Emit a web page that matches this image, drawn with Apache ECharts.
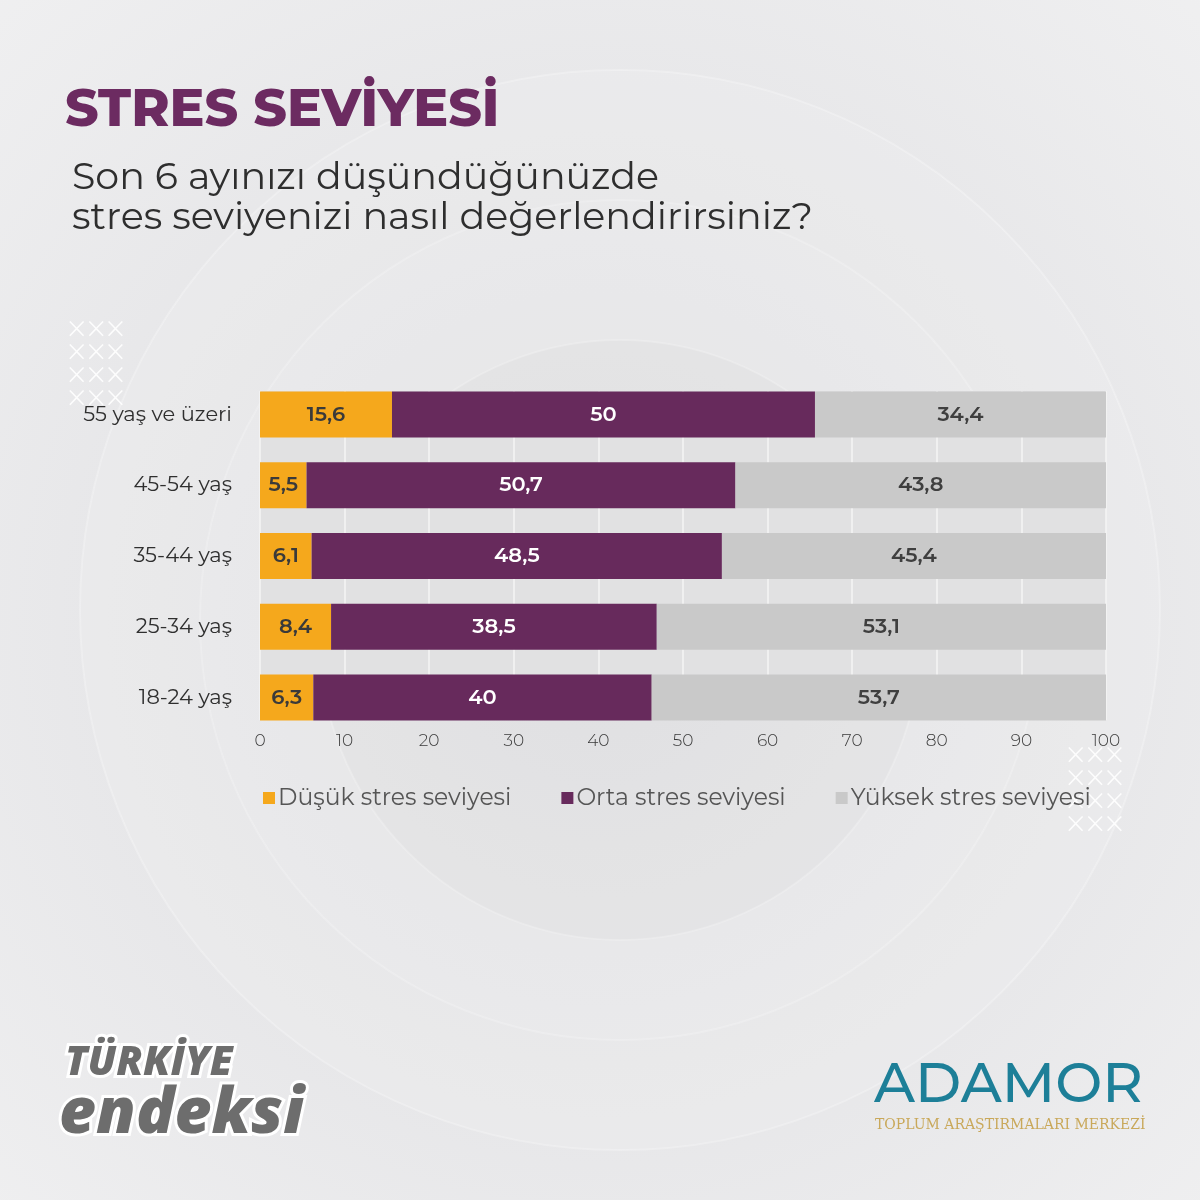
<!DOCTYPE html>
<html>
<head>
<meta charset="utf-8">
<script src="https://cdn.jsdelivr.net/npm/echarts@6/dist/echarts.min.js"></script>
<style>
html,body{margin:0;padding:0;}
#c{width:1200px;height:1200px;}
</style>
</head>
<body>
<div id="c"></div>
<script>
const categories = ['55 yaş ve üzeri', '45-54 yaş', '35-44 yaş', '25-34 yaş', '18-24 yaş'];
const dusuk = [15.6, 5.5, 6.1, 8.4, 6.3];
const orta = [50, 50.7, 48.5, 38.5, 40];
const yuksek = [34.4, 43.8, 45.4, 53.1, 53.7];
const seriesNames = ['Düşük stres seviyesi', 'Orta stres seviyesi', 'Yüksek stres seviyesi'];
const xTicks = [0, 10, 20, 30, 40, 50, 60, 70, 80, 90, 100];

const FONT = 'Montserrat, "Open Sans", "Noto Sans", sans-serif';
const colors = ['#f5a81c', '#672a5c', '#c9c9c9'];
const labelColors = ['#3a3a3a', '#ffffff', '#3f3f3f'];

const chart = echarts.init(document.getElementById('c'), null, {renderer: 'canvas'});

function crosses(x, y) {
  const els = [];
  for (let r = 0; r < 4; r++) {
    els.push({type: 'text', left: x, top: y + r * 23, silent: true,
      style: {text: '×××', fill: 'rgba(255,255,255,0.9)', font: '300 34px "Open Sans"', letterSpacing: 0}});
  }
  return els;
}

const fmt = p => String(p.value).replace('.', ',');

const option = {
  backgroundColor: {
    type: 'radial', x: 0.5, y: 0.52, r: 0.75,
    colorStops: [{offset: 0, color: '#dedee0'}, {offset: 0.55, color: '#e7e7e9'}, {offset: 1, color: '#f0f0f1'}]
  },
  animation: false,
  graphic: [
    {type: 'circle', shape: {cx: 620, cy: 610, r: 540}, silent: true, z: -10,
      style: {fill: 'rgba(255,255,255,0.12)', stroke: 'rgba(255,255,255,0.25)', lineWidth: 2}},
    {type: 'circle', shape: {cx: 620, cy: 620, r: 420}, silent: true, z: -10,
      style: {fill: 'rgba(255,255,255,0.08)', stroke: 'rgba(255,255,255,0.2)', lineWidth: 2}},
    {type: 'circle', shape: {cx: 620, cy: 640, r: 300}, silent: true, z: -10,
      style: {fill: 'rgba(0,0,0,0.015)', stroke: 'rgba(255,255,255,0.2)', lineWidth: 2}},
    ...crosses(67, 314),
    ...crosses(1066, 740),
    {type: 'text', left: 65, top: 85, silent: true,
      style: {text: 'STRES SEVİYESİ', fill: '#6c2b61', font: '800 52px ' + FONT}},
    {type: 'text', left: 72, top: 158, silent: true,
      style: {text: 'Son 6 ayınızı düşündüğünüzde\nstres seviyenizi nasıl değerlendirirsiniz?', fill: '#2e2e2e',
        font: '400 38px ' + FONT, lineHeight: 40}},
    {type: 'text', left: 62, top: 1040, silent: true,
      style: {text: 'TÜRKİYE', fill: '#6d6d6d', stroke: '#ffffff', lineWidth: 6,
        font: 'italic 900 41px "Open Sans", sans-serif'}},
    {type: 'text', left: 56, top: 1080, silent: true,
      style: {text: 'endeksi', fill: '#6d6d6d', stroke: '#ffffff', lineWidth: 6,
        font: 'italic 900 64px "Open Sans", sans-serif'}},
    {type: 'text', left: 874, top: 1058, silent: true,
      style: {text: 'ADAMOR', fill: '#1d7f98', font: '500 56px Montserrat, "Open Sans", sans-serif', letterSpacing: 15}},
    {type: 'text', left: 875, top: 1118, silent: true,
      style: {text: 'TOPLUM ARAŞTIRMALARI MERKEZİ', fill: '#c9a85a', font: '400 14px "DejaVu Serif", serif'}}
  ],
  legend: {
    top: 781, left: 258, itemGap: 50,
    icon: 'rect', itemWidth: 12, itemHeight: 12,
    textStyle: {fontFamily: FONT, fontSize: 23.5, color: '#555555', padding: [0, 0, 0, -2]},
    data: seriesNames
  },
  grid: [
    {left: 260, right: 94, top: 379, height: 354, containLabel: false},
    {left: 260, right: 94, top: 391, height: 329, show: true, backgroundColor: '#e1e1e2', borderWidth: 0, z: 0}
  ],
  xAxis: [
    {gridIndex: 0, type: 'value', min: 0, max: 100, interval: 10, show: false},
    {gridIndex: 1, type: 'value', min: 0, max: 100, interval: 10,
      axisLine: {show: false}, axisTick: {show: false},
      splitLine: {show: true, lineStyle: {color: '#f4f4f4', width: 1.5}},
      axisLabel: {color: '#3a3a3a', fontFamily: FONT, fontSize: 17, fontWeight: 300, margin: 12,
        formatter: v => xTicks.includes(v) ? String(v) : ''}}
  ],
  yAxis: [
    {gridIndex: 0, type: 'category', data: categories, inverse: true,
      axisLine: {show: false}, axisTick: {show: false}, splitLine: {show: false},
      axisLabel: {color: '#2f2f2f', fontFamily: FONT, fontSize: 21, margin: 28}},
    {gridIndex: 1, type: 'value', show: false}
  ],
  series: [dusuk, orta, yuksek].map((d, i) => ({
    name: seriesNames[i], type: 'bar', stack: 'total', xAxisIndex: 0, yAxisIndex: 0,
    barWidth: 46, data: d, z: 3,
    itemStyle: {color: colors[i]},
    label: {show: true, position: 'inside', formatter: fmt, color: labelColors[i],
      fontFamily: FONT, fontSize: 21, fontWeight: 600}
  }))
};
chart.setOption(option);
</script>
</body>
</html>
